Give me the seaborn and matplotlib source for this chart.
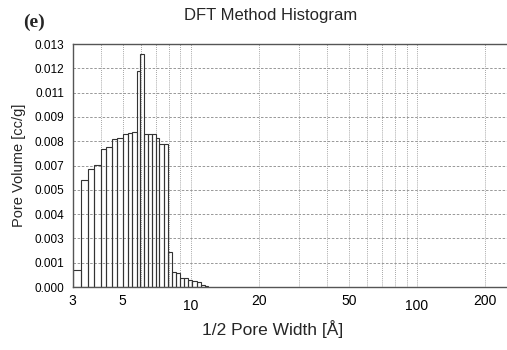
import numpy as np
import pandas as pd
import seaborn as sns
import matplotlib.pyplot as plt
from matplotlib.ticker import FixedLocator, NullFormatter

# bin edges of the DFT histogram (half pore width, Angstrom) and pore volume per bin
bin_edges = [3.02, 3.27, 3.50, 3.75, 4.00, 4.22, 4.48, 4.73, 5.00, 5.26,
             5.52, 5.77, 5.97, 6.21, 6.49, 6.72, 7.00, 7.26, 7.62, 7.96,
             8.29, 8.61, 8.97, 9.34, 9.76, 10.16, 10.70, 11.10, 11.57, 11.90]
pore_volume = [0.00094, 0.00585, 0.00647, 0.00669, 0.00754, 0.00768, 0.00809,
               0.00818, 0.00836, 0.00842, 0.00849, 0.01180, 0.01276, 0.00840,
               0.00836, 0.00836, 0.00818, 0.00785, 0.00785, 0.00189, 0.00084,
               0.00079, 0.00048, 0.00048, 0.00039, 0.00035, 0.00030, 0.00011,
               0.00006]

x_ticks = [3, 5, 10, 20, 50, 100, 200]
x_minor = [4, 6, 7, 8, 9, 30, 40, 60, 70, 80, 90]
x_range = (3, 250)
y_max = 0.0133

sns.set_style('white')
plt.rcParams['font.family'] = ['Liberation Sans', 'DejaVu Sans']

fig = plt.figure(figsize=(5.07, 3.5), dpi=100)
ax = fig.add_axes([0.143, 0.18, 0.857, 0.694])

edges = np.array(bin_edges)
df = pd.DataFrame({'width': (edges[:-1] + edges[1:]) / 2, 'volume': pore_volume})
sns.histplot(data=df, x='width', weights='volume', bins=bin_edges, fill=False,
             color='#333333', linewidth=0.8, ax=ax)

ax.set_xscale('log')
ax.set_xlim(*x_range)
ax.set_ylim(0, y_max)

ax.xaxis.set_major_locator(FixedLocator(x_ticks))
ax.xaxis.set_minor_locator(FixedLocator(x_minor))
ax.xaxis.set_minor_formatter(NullFormatter())
ax.set_xticklabels([str(t) for t in x_ticks])
y_ticks = np.linspace(0, y_max, 11)
ax.set_yticks(y_ticks)
ax.set_yticklabels([f'{v:.3f}' for v in y_ticks])

ax.tick_params(axis='both', which='both', length=0, colors='black')
ax.tick_params(axis='y', pad=6, labelsize=8.5)
ax.tick_params(axis='x', pad=5, labelsize=10)
# "10" and "100" sit a little lower than the other labels
for tick, val in zip(ax.xaxis.get_major_ticks(), x_ticks):
    if val in (10, 100):
        tick.set_pad(9)

ax.grid(True, axis='y', which='major', linestyle=(0, (3, 2)), color='#888888', lw=0.6)
ax.grid(True, axis='x', which='both', linestyle=(0, (1, 1.5)), color='#888888', lw=0.6)

for side in ['left', 'bottom', 'top']:
    ax.spines[side].set_color('#555555')
    ax.spines[side].set_linewidth(1.0)
ax.spines['right'].set_visible(False)

ax.set_xlabel('1/2 Pore Width [Å]', fontsize=12.5)
ax.xaxis.set_label_coords(0.46, -0.135)
ax.set_ylabel('Pore Volume [cc/g]', fontsize=10.5, labelpad=6)

fig.text(0.533, 0.957, 'DFT Method Histogram', ha='center', va='center', fontsize=12)
fig.text(0.045, 0.935, '(e)', ha='left', va='center', fontsize=14,
         fontweight='bold', family='Liberation Serif')

fig.savefig('out.png', dpi=100)
